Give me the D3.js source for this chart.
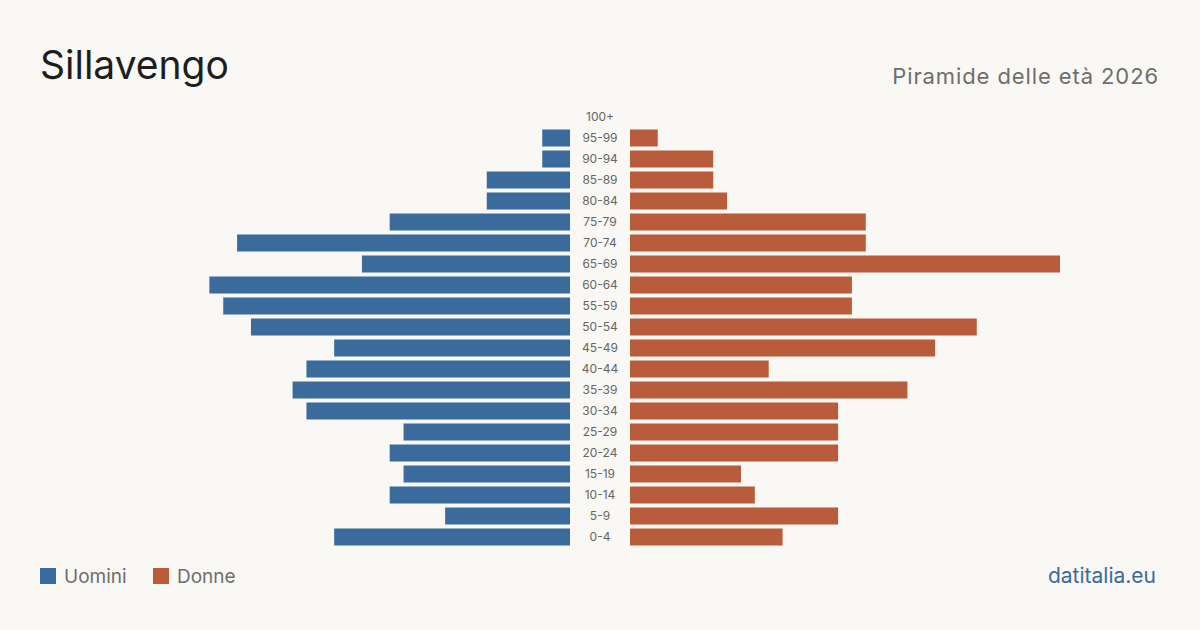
<!DOCTYPE html>
<html lang="it">
<head>
<meta charset="utf-8">
<script src="https://cdn.jsdelivr.net/npm/d3@7"></script>
<style>
  html, body { margin: 0; padding: 0; background: #f9f8f4; }
  svg { display: block; font-family: Inter, "Noto Sans", sans-serif; }
</style>
</head>
<body>
<script>
// age classes, bottom to top as in the source list
var ageGroups = ["0-4","5-9","10-14","15-19","20-24","25-29","30-34","35-39","40-44","45-49",
                 "50-54","55-59","60-64","65-69","70-74","75-79","80-84","85-89","90-94","95-99","100+"];
var males   = [17, 9, 13, 12, 13, 12, 19, 20, 19, 17, 23, 25, 26, 15, 24, 13, 6, 6, 2, 2, 0];
var females = [11, 15, 9, 8, 15, 15, 15, 20, 10, 22, 25, 16, 16, 31, 17, 17, 7, 6, 6, 2, 0];

var w = 1200, h = 630;
var cx = 600;        // centre of the labels column
var gap = 30;        // half width of label column

var svg = d3.select("body").append("svg")
    .attr("width", w).attr("height", h);

svg.append("rect").attr("width", w).attr("height", h).attr("fill", "#f9f8f4");

// y: one band per age group, top is oldest
var yScale = d3.scaleBand()
    .domain(ageGroups.slice().reverse())
    .range([106.5, 547.5])
    .paddingInner(0.19)
    .paddingOuter(0.095);

var maxV = d3.max(males.concat(females));
var xScale = d3.scaleLinear().domain([0, maxV]).range([0, 430]);

// males (left)
svg.selectAll("rect.m")
    .data(males)
    .enter().append("rect")
    .attr("class", "m")
    .attr("x", function(d){ return cx - gap - xScale(d); })
    .attr("y", function(d, i){ return yScale(ageGroups[i]); })
    .attr("width", function(d){ return xScale(d); })
    .attr("height", yScale.bandwidth())
    .attr("fill", "#3a6b9c");

// females (right)
svg.selectAll("rect.f")
    .data(females)
    .enter().append("rect")
    .attr("class", "f")
    .attr("x", cx + gap)
    .attr("y", function(d, i){ return yScale(ageGroups[i]); })
    .attr("width", function(d){ return xScale(d); })
    .attr("height", yScale.bandwidth())
    .attr("fill", "#b85c3c");

// age labels
svg.selectAll("text.age")
    .data(ageGroups)
    .enter().append("text")
    .attr("class", "age")
    .attr("x", cx)
    .attr("y", function(d){ return yScale(d) + yScale.bandwidth()/2; })
    .attr("dy", "0.35em")
    .attr("text-anchor", "middle")
    .attr("font-size", "12px")
    .attr("fill", "#666")
    .text(function(d){ return d; });

// title + subtitle
svg.append("text").attr("x", 40).attr("y", 79)
    .attr("font-size", "39px").attr("fill", "#1e1e1e")
    .text("Sillavengo");
svg.append("text").attr("x", 1159).attr("y", 84)
    .attr("text-anchor", "end")
    .attr("font-size", "22px").attr("fill", "#6e6e6e")
    .attr("letter-spacing", "0.9px")
    .text("Piramide delle età 2026");

// legend
var legend = [{label: "Uomini", color: "#3a6b9c", x: 40}, {label: "Donne", color: "#b85c3c", x: 153}];
var lg = svg.selectAll("g.lg").data(legend).enter().append("g")
    .attr("transform", function(d){ return "translate(" + d.x + ",568)"; });
lg.append("rect").attr("width", 16).attr("height", 16).attr("fill", function(d){ return d.color; });
lg.append("text").attr("x", 24).attr("y", 8).attr("dy", "0.35em")
    .attr("font-size", "19px").attr("fill", "#6e6e6e")
    .text(function(d){ return d.label; });

svg.append("text").attr("x", 1156).attr("y", 583)
    .attr("text-anchor", "end")
    .attr("font-size", "21px").attr("fill", "#3a6b9c")
    .text("datitalia.eu");
</script>
</body>
</html>
